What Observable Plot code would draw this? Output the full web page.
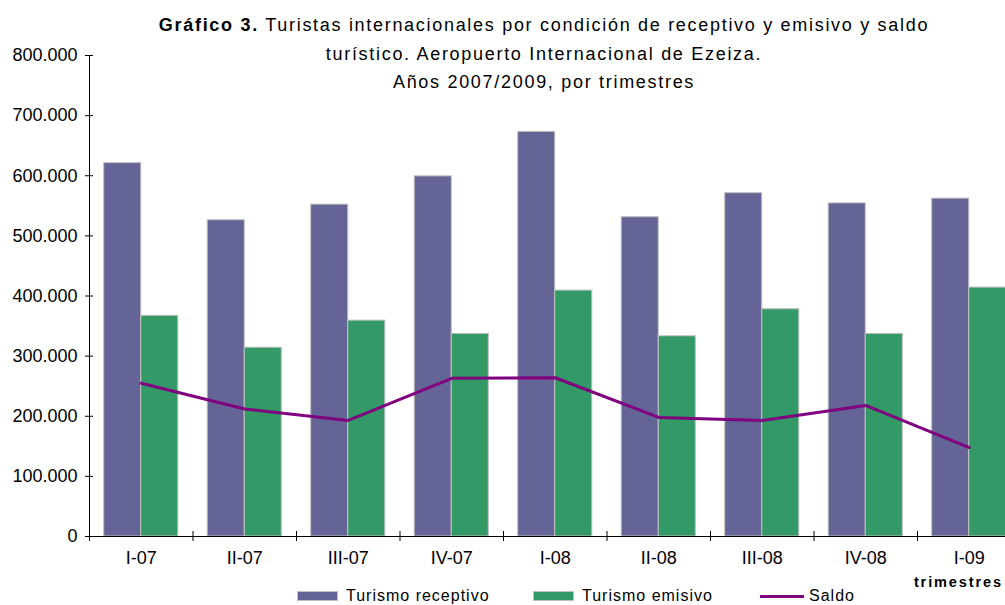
<!DOCTYPE html>
<html>
<head>
<meta charset="utf-8">
<script src="https://cdn.jsdelivr.net/npm/d3@7"></script>
<script src="https://cdn.jsdelivr.net/npm/@observablehq/plot@0.6"></script>
<style>
  html, body { margin: 0; padding: 0; background: #fff; overflow: hidden; }
  #wrap { position: relative; width: 1005px; height: 605px; overflow: hidden; font-family: "Liberation Sans", Arial, sans-serif; color: #000; }
  #title { position: absolute; left: 94px; width: 900px; top: 11px; text-align: center; font-size: 18px; line-height: 28.5px; letter-spacing: 1.7px; }
  #chart { position: absolute; left: 0; top: 0; }
  .leg { position: absolute; font-size: 16px; line-height: 16px; white-space: nowrap; letter-spacing: 1px; }
  .sw { position: absolute; width: 39px; height: 8px; border: 1px solid #c0c0c0; }
  #trim { position: absolute; right: 2px; top: 574px; font-size: 14.5px; font-weight: bold; letter-spacing: 1.9px; white-space: nowrap; }
</style>
</head>
<body>
<div id="wrap">
  <div id="chart"></div>
  <div id="title"><b>Gráfico 3.</b> Turistas internacionales por condición de receptivo y emisivo y saldo<br>turístico. Aeropuerto Internacional de Ezeiza.<br>Años 2007/2009, por trimestres</div>
  <div id="trim">trimestres</div>
  <div class="sw" style="left:297px; top:591px; background:#646496;"></div>
  <div class="leg" style="left:346px; top:588px;">Turismo receptivo</div>
  <div class="sw" style="left:533px; top:591px; background:#339966;"></div>
  <div class="leg" style="left:582px; top:588px;">Turismo emisivo</div>
  <div style="position:absolute; left:760px; top:595px; width:44px; height:3px; background:#800080;"></div>
  <div class="leg" style="left:809px; top:588px;">Saldo</div>
</div>
<script>
const categories = ["I-07","II-07","III-07","IV-07","I-08","II-08","III-08","IV-08","I-09"];
const receptivo = [621000, 526000, 552000, 599000, 673000, 531000, 571000, 554000, 562000];
const emisivo   = [367000, 314000, 359000, 337000, 409000, 333000, 378000, 337000, 414000];
const saldo     = [255000, 212000, 193000, 263000, 264000, 198000, 193000, 218000, 148000];
const yTicks = [0, 100000, 200000, 300000, 400000, 500000, 600000, 700000, 800000];

const rows = categories.map((c, i) => ({i, c, receptivo: receptivo[i], emisivo: emisivo[i], saldo: saldo[i]}));
const idx = rows.map(d => d.i);
const bounds = d3.range(-0.5, categories.length, 1);
const bw = 0.358;
const fmt = v => d3.format(",")(v).replace(/,/g, ".");

const chart = Plot.plot({
  width: 1005, height: 605,
  marginTop: 55, marginBottom: 69, marginLeft: 89, marginRight: 0,
  x: {type: "linear", domain: [-0.5, categories.length - 0.5], range: [89, 1020.5]},
  y: {domain: [0, 800000], range: [536, 55]},
  style: {fontFamily: "'Liberation Sans', Arial, sans-serif", fontSize: "18px", color: "#000", background: "transparent", overflow: "visible"},
  marks: [
    Plot.rectY(rows, {x1: d => d.i - bw, x2: d => d.i, y: "receptivo", fill: "#646496", stroke: "#c0c0c0", strokeWidth: 1}),
    Plot.rectY(rows, {x1: d => d.i, x2: d => d.i + bw, y: "emisivo", fill: "#339966", stroke: "#c0c0c0", strokeWidth: 1}),
    Plot.ruleX([-0.5], {y1: 0, y2: 800000, stroke: "#000"}),
    Plot.ruleY([0], {x1: -0.5, x2: categories.length - 0.5, stroke: "#000"}),
    Plot.axisY(yTicks, {tickSize: 8, dx: 4, tickFormat: () => "", label: null, stroke: "#000"}),
    Plot.axisY(yTicks, {tickSize: 0, tickPadding: 12, tickFormat: fmt, label: null, fontSize: 18}),
    Plot.axisX(bounds, {tickSize: 10, dy: -5, tickFormat: () => "", label: null, stroke: "#000"}),
    Plot.axisX(idx, {tickSize: 0, tickPadding: 15, tickFormat: i => categories[i], label: null, fontSize: 18}),
    Plot.line(rows, {x: "i", y: "saldo", stroke: "#800080", strokeWidth: 3})
  ]
});
document.getElementById("chart").appendChild(chart);
</script>
</body>
</html>
